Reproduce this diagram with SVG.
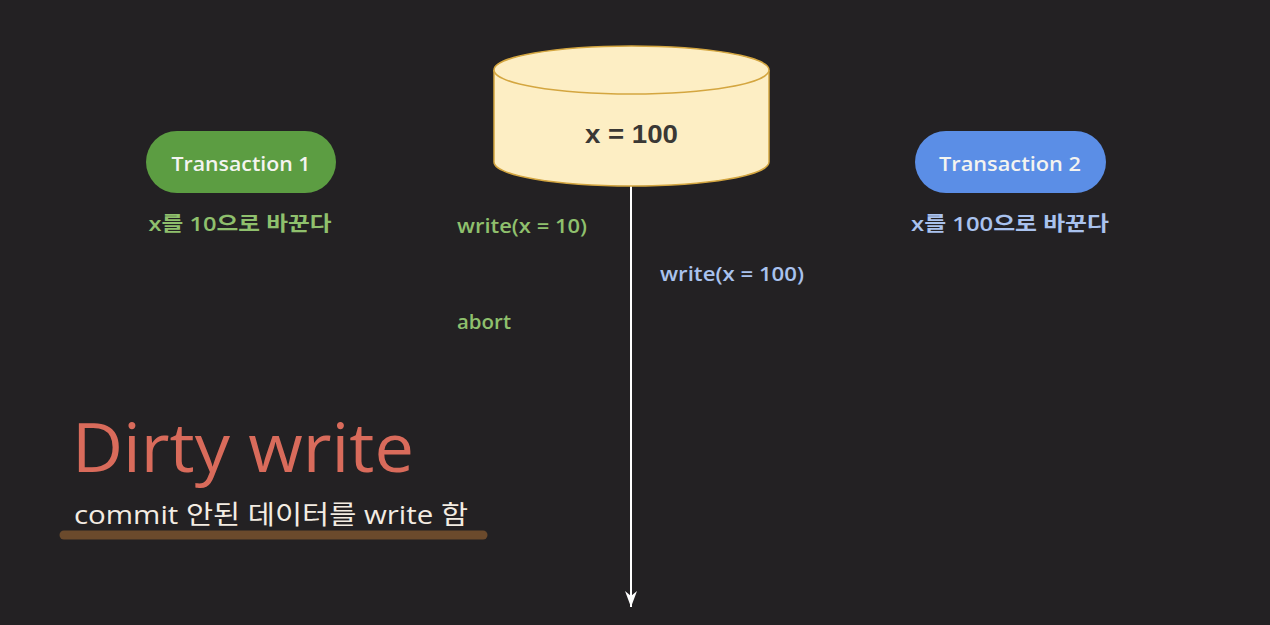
<svg xmlns="http://www.w3.org/2000/svg" width="1270" height="625" viewBox="0 0 1270 625">
<style>
.t{font-family:"Open Sans","Noto Sans CJK KR",sans-serif}
.k{font-family:"Open Sans","Noto Sans CJK KR",sans-serif;font-weight:600}
.pill{font-size:19px;fill:#f4f4f0;text-anchor:middle;font-weight:600}
.g{fill:#8fc06d}
.b{fill:#a9c2ee}
.lbl{font-size:19px;font-weight:600}
</style>
<defs>
<marker id="arr" markerWidth="18" markerHeight="14" refX="16" refY="6" orient="auto" markerUnits="userSpaceOnUse">
<path d="M0,0 L16,6 L0,12 L5,6 Z" fill="#ffffff"/>
</marker>
</defs>
<rect width="1270" height="625" fill="#232123"/>
<g id="connectors">
<line x1="631" y1="186" x2="631" y2="607" stroke="#ffffff" stroke-width="2" marker-end="url(#arr)"/>
</g>
<g id="db">
<path d="M494,70 L494,162 A137.5,24 0 0 0 769,162 L769,70" fill="#fdeec4" stroke="#d4a640" stroke-width="1.5"/>
<ellipse cx="631.5" cy="70" rx="137.5" ry="24" fill="#fdeec4" stroke="#d4a640" stroke-width="1.5"/>
<text x="631.5" y="143" font-family="Liberation Sans, sans-serif" font-size="26" font-weight="bold" fill="#3a3835" text-anchor="middle" textLength="93" lengthAdjust="spacingAndGlyphs">x = 100</text>
</g>
<g id="t1">
<rect x="146" y="131" width="190" height="62" rx="31" fill="#5c9d42"/>
<text class="t pill" x="241" y="171" textLength="139" lengthAdjust="spacingAndGlyphs">Transaction 1</text>
<text class="k g" x="240" y="231" font-size="20" text-anchor="middle" textLength="183" lengthAdjust="spacingAndGlyphs">x를 10으로 바꾼다</text>
</g>
<g id="t2">
<rect x="915" y="131" width="191" height="62" rx="31" fill="#5b8ee6"/>
<text class="t pill" x="1010" y="171" textLength="142" lengthAdjust="spacingAndGlyphs">Transaction 2</text>
<text class="k b" x="1010" y="231" font-size="20" text-anchor="middle" textLength="198" lengthAdjust="spacingAndGlyphs">x를 100으로 바꾼다</text>
</g>
<g id="labels">
<text class="t g lbl" x="457" y="233" textLength="130" lengthAdjust="spacingAndGlyphs">write(x = 10)</text>
<text class="t b lbl" x="660" y="281" textLength="144" lengthAdjust="spacingAndGlyphs">write(x = 100)</text>
<text class="t g lbl" x="457" y="329" textLength="54" lengthAdjust="spacingAndGlyphs">abort</text>
</g>
<g id="title">
<line x1="64" y1="535" x2="483" y2="535" stroke="#6b4a2c" stroke-width="9" stroke-linecap="round"/>
<text class="t" x="72" y="472" font-size="68" fill="#d96b5b" textLength="342" lengthAdjust="spacingAndGlyphs">Dirty write</text>
<text class="t" x="74" y="524" font-size="26" fill="#f3ece2" textLength="394" lengthAdjust="spacingAndGlyphs">commit 안된 데이터를 write 함</text>
</g>
</svg>
